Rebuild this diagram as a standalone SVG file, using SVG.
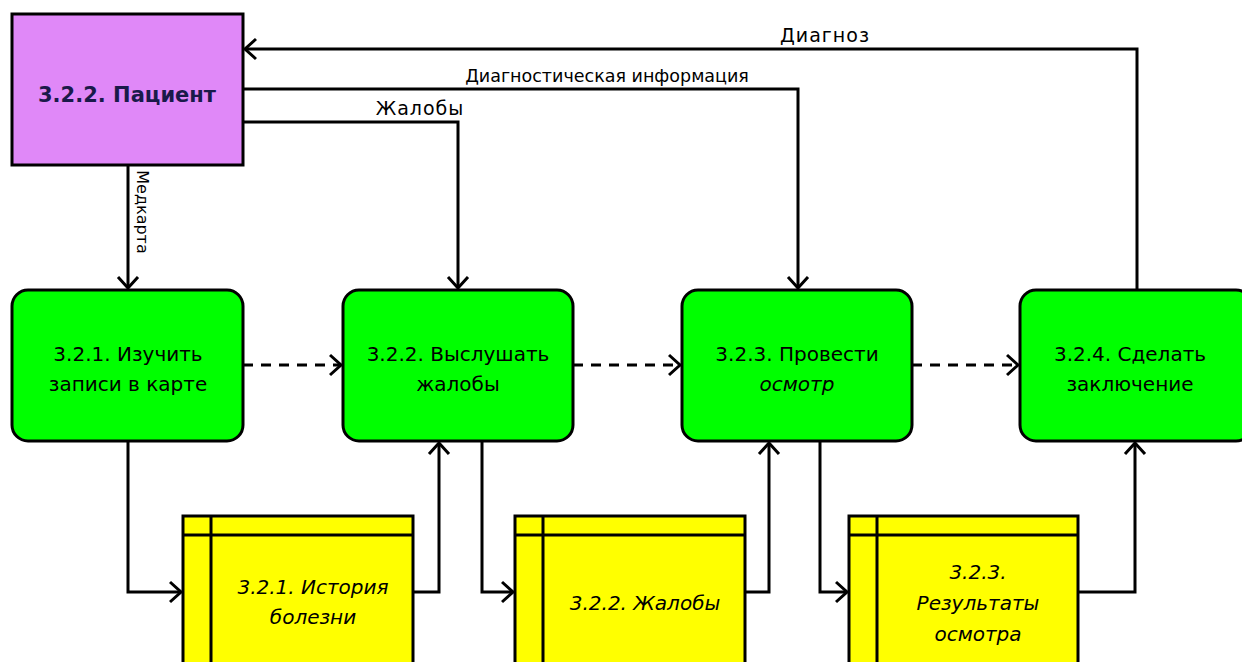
<svg xmlns="http://www.w3.org/2000/svg" width="1242" height="662" viewBox="0 0 1242 662">
  <style>
    .line { fill: none; stroke: #000; stroke-width: 3; }
    .dash { fill: none; stroke: #000; stroke-width: 3; stroke-dasharray: 10 8; }
    .proc { fill: #00FF00; stroke: #000; stroke-width: 3; }
    .store { fill: #FFFF00; stroke: #000; stroke-width: 3; }
    .ext { fill: #E088F8; stroke: #000; stroke-width: 3; }
    .t { font-family: "DejaVu Sans", "Liberation Sans", sans-serif; fill: #000; text-anchor: middle; }
    .pt { font-size: 20px; }
    .st { font-size: 20px; font-style: italic; }
  </style>
  <defs>
    <marker id="arr" markerUnits="userSpaceOnUse" viewBox="0 0 14 24" markerWidth="14" markerHeight="24" refX="12" refY="12" orient="auto">
      <path d="M1,2 L12,12 L1,22" fill="none" stroke="#000" stroke-width="3"/>
    </marker>
  </defs>

  <!-- connectors -->
  <g id="connectors">
    <path class="line" d="M1137,290 V49 H245" marker-end="url(#arr)"/>
    <path class="line" d="M243,89 H798 V288" marker-end="url(#arr)"/>
    <path class="line" d="M243,122 H458 V288" marker-end="url(#arr)"/>
    <path class="line" d="M128,165 V288" marker-end="url(#arr)"/>
    <path class="dash" d="M243,365 H341" marker-end="url(#arr)"/>
    <path class="dash" d="M573,365 H680" marker-end="url(#arr)"/>
    <path class="dash" d="M912,365 H1018" marker-end="url(#arr)"/>
    <path class="line" d="M128,441 V592 H181" marker-end="url(#arr)"/>
    <path class="line" d="M413,592 H439 V443" marker-end="url(#arr)"/>
    <path class="line" d="M482,441 V592 H513" marker-end="url(#arr)"/>
    <path class="line" d="M745,592 H769 V443" marker-end="url(#arr)"/>
    <path class="line" d="M820,441 V592 H847" marker-end="url(#arr)"/>
    <path class="line" d="M1078,592 H1135 V443" marker-end="url(#arr)"/>
    <text class="t" x="825" y="42" font-size="19" letter-spacing="1">Диагноз</text>
    <text class="t" x="607" y="82" font-size="17.5">Диагностическая информация</text>
    <text class="t" x="420" y="115" font-size="19" letter-spacing="1">Жалобы</text>
    <text class="t" transform="translate(137,212) rotate(90)" font-size="16">Медкарта</text>
  </g>

  <!-- external entity -->
  <g id="patient">
    <rect class="ext" x="12" y="14" width="231" height="151"/>
    <text class="t" x="127" y="102" font-size="21" font-weight="bold" style="fill:#1a1a4a">3.2.2. Пациент</text>
  </g>

  <!-- processes -->
  <g id="proc-321">
    <rect class="proc" x="12" y="290" width="231" height="151" rx="16"/>
    <text class="t pt" x="128" y="361">3.2.1. Изучить</text>
    <text class="t pt" x="128" y="391">записи в карте</text>
  </g>
  <g id="proc-322">
    <rect class="proc" x="343" y="290" width="230" height="151" rx="16"/>
    <text class="t pt" x="458" y="361">3.2.2. Выслушать</text>
    <text class="t pt" x="458" y="391">жалобы</text>
  </g>
  <g id="proc-323">
    <rect class="proc" x="682" y="290" width="230" height="151" rx="16"/>
    <text class="t pt" x="797" y="361">3.2.3. Провести</text>
    <text class="t pt" x="797" y="391" font-style="italic">осмотр</text>
  </g>
  <g id="proc-324">
    <rect class="proc" x="1020" y="290" width="232" height="151" rx="16"/>
    <text class="t pt" x="1130" y="361">3.2.4. Сделать</text>
    <text class="t pt" x="1130" y="391">заключение</text>
  </g>

  <!-- data stores -->
  <g id="store-321">
    <rect class="store" x="183" y="516" width="230" height="160"/>
    <path class="line" d="M183,535 H413 M211,516 V676"/>
    <text class="t st" x="313" y="594">3.2.1. История</text>
    <text class="t st" x="313" y="624">болезни</text>
  </g>
  <g id="store-322">
    <rect class="store" x="515" y="516" width="230" height="160"/>
    <path class="line" d="M515,535 H745 M543,516 V676"/>
    <text class="t st" x="645" y="610">3.2.2. Жалобы</text>
  </g>
  <g id="store-323">
    <rect class="store" x="849" y="516" width="229" height="160"/>
    <path class="line" d="M849,535 H1078 M877,516 V676"/>
    <text class="t st" x="978" y="579">3.2.3.</text>
    <text class="t st" x="978" y="610">Результаты</text>
    <text class="t st" x="978" y="641">осмотра</text>
  </g>
</svg>
